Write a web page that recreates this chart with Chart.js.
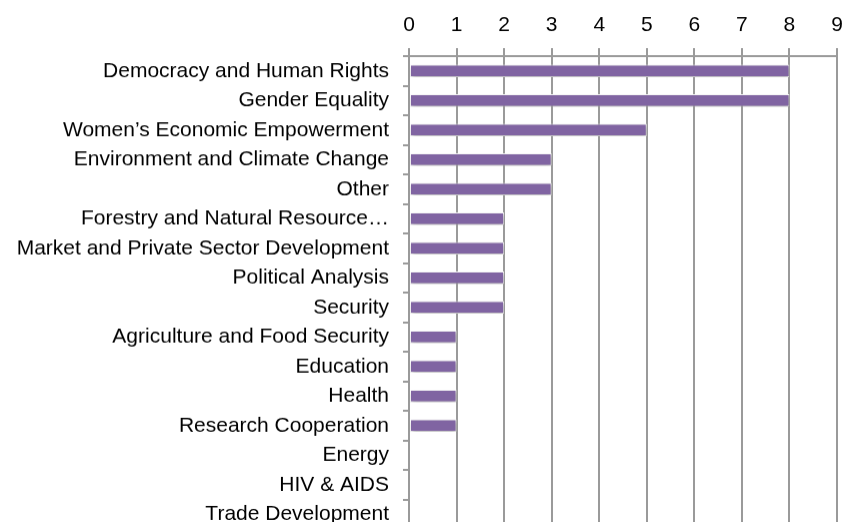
<!DOCTYPE html>
<html>
<head>
<meta charset="utf-8">
<script src="https://cdn.jsdelivr.net/npm/chart.js@4/dist/chart.umd.min.js"></script>
<style>
  html, body { margin: 0; padding: 0; background: #fff; overflow: hidden; }
  #wrap { position: absolute; left: 0; top: 0; width: 844px; height: 528px; }
</style>
</head>
<body>
<div id="wrap"><canvas id="chart"></canvas></div>
<script>
// categories, top to bottom
const categories = [
  "Democracy and Human Rights",
  "Gender Equality",
  "Women\u2019s Economic Empowerment",
  "Environment and Climate Change",
  "Other",
  "Forestry and Natural Resource\u2026",
  "Market and Private Sector Development",
  "Political Analysis",
  "Security",
  "Agriculture and Food Security",
  "Education",
  "Health",
  "Research Cooperation",
  "Energy",
  "HIV & AIDS",
  "Trade Development"
];
const counts = [8, 8, 5, 3, 3, 2, 2, 2, 2, 1, 1, 1, 1, 0, 0, 0];
const xTicks = [0, 1, 2, 3, 4, 5, 6, 7, 8, 9];

const gridGray = "#9a9a9a";
const labelFont = { family: "'Liberation Sans', Arial, sans-serif", size: 21 };

// where the plot area sits in the original picture
const target = { left: 409, right: 837, top: 56, bottom: 528 };

// soft drop shadow under the bars, like the original
const barShadow = {
  id: "barShadow",
  beforeDatasetsDraw(chart) {
    const ctx = chart.ctx;
    ctx.save();
    ctx.shadowColor = "rgba(0,0,0,0.3)";
    ctx.shadowBlur = 4;
    ctx.shadowOffsetX = 1;
    ctx.shadowOffsetY = 2;
  },
  afterDatasetsDraw(chart) {
    chart.ctx.restore();
  }
};

const chart = new Chart(document.getElementById("chart").getContext("2d"), {
  type: "bar",
  data: {
    labels: categories,
    datasets: [{
      data: counts,
      backgroundColor: "#8064a2",
      borderColor: "#ffffff",
      borderWidth: 1,
      borderSkipped: false,
      categoryPercentage: 1,
      barPercentage: 0.42
    }]
  },
  options: {
    indexAxis: "y",
    responsive: true,
    maintainAspectRatio: false,
    animation: false,
    layout: { padding: { left: 0, right: 844 - target.right, top: 0, bottom: 0 } },
    plugins: {
      legend: { display: false },
      tooltip: { enabled: false }
    },
    scales: {
      x: {
        position: "top",
        min: 0,
        max: 9,
        afterBuildTicks: (s) => { s.ticks = xTicks.map(v => ({ value: v })); },
        afterFit: (s) => { s.paddingLeft = 0; s.paddingRight = 0; },
        ticks: { color: "#000", font: labelFont, padding: 10 },
        grid: { color: gridGray, lineWidth: 2, tickLength: 8 },
        border: { color: gridGray, width: 2 }
      },
      y: {
        afterFit: (s) => { s.width = target.left; },
        ticks: { color: "#000", font: labelFont, padding: 14, autoSkip: false },
        grid: {
          offset: true,
          drawOnChartArea: false,
          drawTicks: true,
          tickLength: 6,
          lineWidth: 2,
          color: gridGray
        },
        border: { display: false }
      }
    }
  },
  plugins: [barShadow]
});

// nudge the padding / canvas height so the plot area lands where it does in the original
const wrap = document.getElementById("wrap");
let ca = chart.chartArea;
chart.options.layout.padding.top += target.top - ca.top;
wrap.style.height = (528 + (528 - ca.bottom) + (target.top - ca.top)) + "px";
chart.resize();
chart.update();
ca = chart.chartArea;
wrap.style.height = (parseFloat(wrap.style.height) + target.bottom - ca.bottom) + "px";
chart.resize();
chart.update();
</script>
</body>
</html>
